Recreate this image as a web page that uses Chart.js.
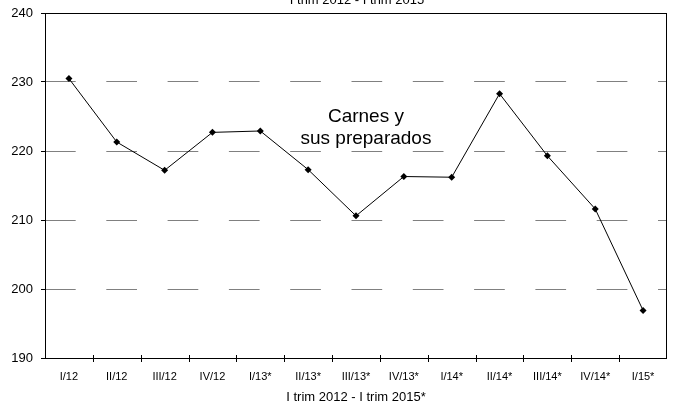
<!DOCTYPE html>
<html>
<head>
<meta charset="utf-8">
<script src="https://cdn.jsdelivr.net/npm/chart.js@4.4.0/dist/chart.umd.min.js"></script>
<style>
  html, body { margin: 0; padding: 0; background: #fff; }
  #wrap { width: 673px; height: 405px; position: relative; }
</style>
</head>
<body>
<div id="wrap"><canvas id="c" width="673" height="405"></canvas></div>
<script>
const categories = ["I/12","II/12","III/12","IV/12","I/13*","II/13*","III/13*","IV/13*","I/14*","II/14*","III/14*","IV/14*","I/15*"];
const values = [230.5, 221.3, 217.2, 222.7, 222.9, 217.3, 210.6, 216.3, 216.2, 228.3, 219.3, 211.6, 196.9];
const yTicks = [190, 200, 210, 220, 230, 240];
const chartTitle = "I trim 2012 - I trim 2015";
const xTitle = "I trim 2012 - I trim 2015*";
const seriesLabel = ["Carnes y", "sus preparados"];

const FONT = "'Liberation Sans', Arial, sans-serif";

const decor = {
  id: 'decor',
  afterDraw(chart) {
    const ctx = chart.ctx;
    const a = chart.chartArea;
    const xs = chart.scales.x;
    ctx.save();
    // frame
    ctx.strokeStyle = '#000';
    ctx.lineWidth = 1;
    ctx.strokeRect(Math.round(a.left) + 0.5, Math.round(a.top) + 0.5,
                   Math.round(a.right - a.left) - 1, Math.round(a.bottom - a.top));
    // x tick marks crossing axis at category boundaries
    ctx.beginPath();
    for (let i = 1; i < categories.length; i++) {
      const x = Math.round((xs.getPixelForValue(i - 1) + xs.getPixelForValue(i)) / 2) + 0.5;
      ctx.moveTo(x, a.bottom - 3);
      ctx.lineTo(x, a.bottom + 4);
    }
    ctx.stroke();
    // top title (partly cut)
    ctx.fillStyle = '#000';
    ctx.font = '13px ' + FONT;
    ctx.textAlign = 'center';
    ctx.textBaseline = 'alphabetic';
    ctx.fillText(chartTitle, (a.left + a.right) / 2 + 1, 4);
    // series label
    ctx.font = '19px ' + FONT;
    const cx = a.left + (a.right - a.left) * 0.516;
    ctx.fillText(seriesLabel[0], cx, 122);
    ctx.fillText(seriesLabel[1], cx, 144);
    ctx.restore();
  }
};

new Chart(document.getElementById('c'), {
  type: 'line',
  data: {
    labels: categories,
    datasets: [{
      data: values,
      borderColor: '#000',
      backgroundColor: '#000',
      borderWidth: 1,
      pointStyle: 'rectRot',
      pointRadius: 3.5,
      pointBorderWidth: 0,
      pointBackgroundColor: '#000',
      tension: 0,
      fill: false,
      clip: false
    }]
  },
  options: {
    responsive: false,
    animation: false,
    devicePixelRatio: 1,
    layout: { padding: { top: 13, right: 6, left: 0, bottom: 0 } },
    plugins: { legend: { display: false }, tooltip: { enabled: false }, title: { display: false } },
    scales: {
      x: {
        offset: true,
        grid: { display: true, drawOnChartArea: false, drawTicks: false, offset: true },
        border: { display: false },
        ticks: { color: '#000', font: { family: FONT, size: 11 }, padding: 12, maxRotation: 0, autoSkip: false },
        title: { display: true, text: xTitle, color: '#000', font: { family: FONT, size: 13 }, padding: { top: 0, bottom: 0 } },
        afterFit(s) { s.height = 47; s.paddingLeft = 0; s.paddingRight = 0; }
      },
      y: {
        min: 190, max: 240,
        afterBuildTicks(s) { s.ticks = yTicks.map(v => ({ value: v })); },
        grid: {
          color: (c) => (c.tick && (c.tick.value === 190 || c.tick.value === 240)) ? 'rgba(0,0,0,0)' : '#808080',
          lineWidth: 1, tickColor: '#000', tickLength: 4, tickBorderDash: []
        },
        border: { display: false, dash: [30.7, 30.6], dashOffset: 0 },
        ticks: { color: '#000', font: { family: FONT, size: 13 }, padding: 8 },
        afterFit(s) { s.width = 45; s.paddingTop = 0; s.paddingBottom = 0; }
      }
    }
  },
  plugins: [decor]
});
</script>
</body>
</html>
